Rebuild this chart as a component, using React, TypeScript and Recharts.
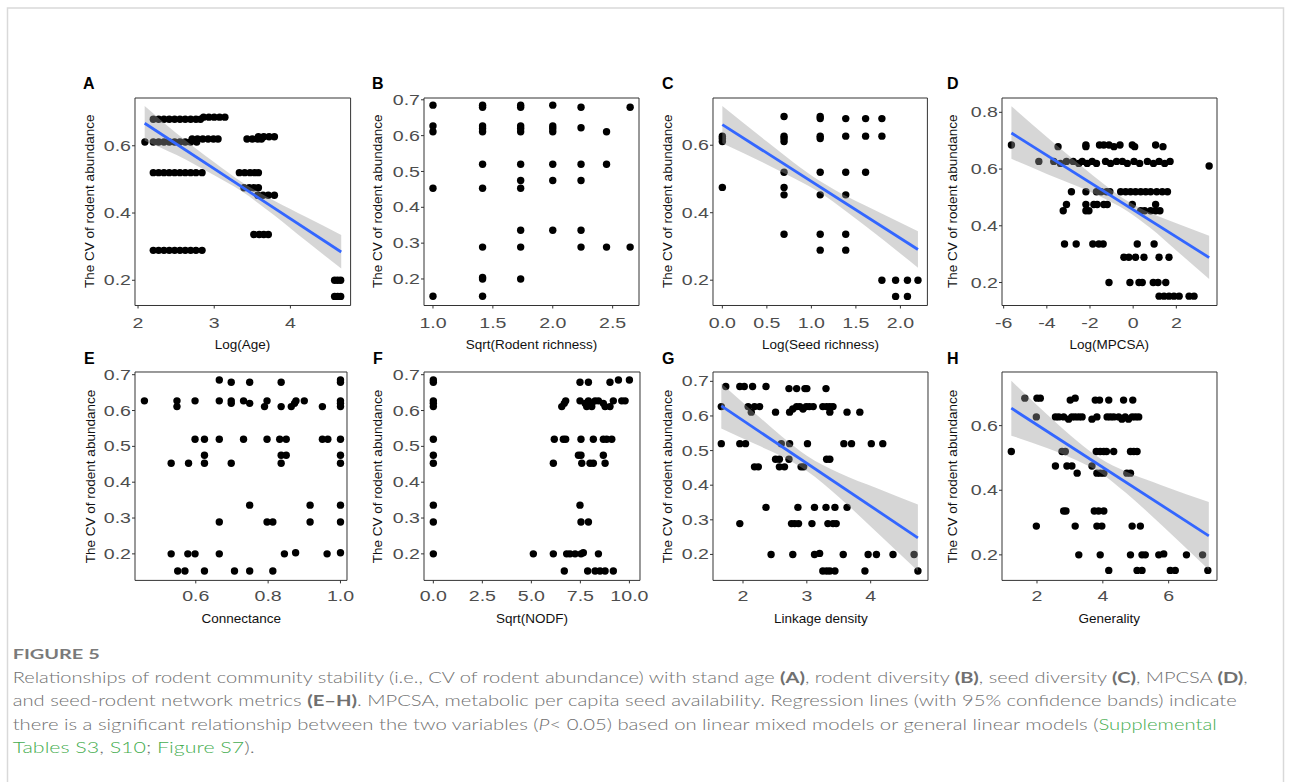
import React from 'react';
import { ComposedChart, Scatter, Area, Line, XAxis, YAxis, ReferenceArea } from 'recharts';

type Pt = [number, number];
type Band = [number, number, number];

// ---------- Panel A : Log(Age) ----------
const ptsA: Pt[] = [
  [2.20,0.679],[2.27,0.679],[2.34,0.679],[2.41,0.679],[2.48,0.679],[2.55,0.679],[2.62,0.679],[2.69,0.679],[2.76,0.679],[2.82,0.679],
  [2.86,0.685],[2.93,0.685],[3.00,0.685],[3.07,0.685],[3.14,0.685],
  [2.09,0.611],[2.20,0.611],[2.27,0.611],[2.34,0.611],[2.41,0.611],[2.48,0.611],[2.55,0.611],[2.62,0.611],[2.69,0.611],[2.77,0.611],
  [2.71,0.62],[2.78,0.62],[2.85,0.62],[2.92,0.62],[2.99,0.62],[3.05,0.62],[3.43,0.62],[3.50,0.62],[3.57,0.62],[3.62,0.62],
  [3.58,0.627],[3.65,0.627],[3.72,0.627],[3.79,0.627],
  [2.20,0.52],[2.27,0.52],[2.34,0.52],[2.41,0.52],[2.48,0.52],[2.55,0.52],[2.62,0.52],[2.69,0.52],[2.76,0.52],[2.84,0.52],
  [3.33,0.52],[3.40,0.52],[3.47,0.52],[3.53,0.52],[3.58,0.52],
  [3.39,0.475],[3.46,0.475],[3.52,0.475],[3.58,0.475],
  [3.57,0.453],[3.64,0.453],[3.71,0.453],[3.79,0.453],
  [3.52,0.336],[3.59,0.336],[3.65,0.336],[3.71,0.336],
  [2.20,0.289],[2.27,0.289],[2.34,0.289],[2.41,0.289],[2.48,0.289],[2.55,0.289],[2.62,0.289],[2.69,0.289],[2.76,0.289],[2.84,0.289],
  [4.58,0.2],[4.62,0.2],[4.66,0.2],
  [4.58,0.152],[4.62,0.152],[4.66,0.152],
];
const lineA: Pt[] = [[2.087,0.667],[4.667,0.284]];
const bandA: Band[] = [[2.087,0.615,0.718],[2.5,0.573,0.638],[3.0,0.512,0.551],[3.35,0.466,0.494],[3.8,0.391,0.435],[4.2,0.318,0.389],[4.667,0.235,0.335]];
const xTicksA = [2, 3, 4];
const yTicksA = [0.2, 0.4, 0.6];

// ---------- Panel B : Sqrt(Rodent richness) ----------
const ptsB: Pt[] = [
  [1.0,0.685],[1.0,0.627],[1.0,0.611],[1.0,0.453],[1.0,0.152],
  [1.414,0.685],[1.414,0.679],[1.414,0.627],[1.414,0.62],[1.414,0.611],[1.414,0.52],[1.414,0.453],[1.414,0.289],[1.414,0.204],[1.414,0.2],[1.414,0.152],
  [1.732,0.685],[1.732,0.679],[1.732,0.627],[1.732,0.62],[1.732,0.611],[1.732,0.52],[1.732,0.475],[1.732,0.453],[1.732,0.336],[1.732,0.289],[1.732,0.2],
  [2.0,0.685],[2.0,0.627],[2.0,0.62],[2.0,0.611],[2.0,0.52],[2.0,0.475],[2.0,0.336],
  [2.236,0.679],[2.236,0.622],[2.236,0.52],[2.236,0.475],[2.236,0.336],[2.236,0.289],
  [2.449,0.611],[2.449,0.52],[2.449,0.289],
  [2.646,0.679],[2.646,0.289],
];
const xTicksB = [1.0, 1.5, 2.0, 2.5];
const yTicksB = [0.2, 0.3, 0.4, 0.5, 0.6, 0.7];

// ---------- Panel C : Log(Seed richness) ----------
const ptsC: Pt[] = [
  [0,0.627],[0,0.62],[0,0.611],[0,0.475],
  [0.693,0.685],[0.693,0.627],[0.693,0.62],[0.693,0.611],[0.693,0.52],[0.693,0.475],[0.693,0.453],[0.693,0.336],
  [1.099,0.685],[1.099,0.679],[1.099,0.627],[1.099,0.62],[1.099,0.52],[1.099,0.453],[1.099,0.336],[1.099,0.289],
  [1.386,0.679],[1.386,0.627],[1.386,0.52],[1.386,0.453],[1.386,0.336],[1.386,0.289],
  [1.609,0.679],[1.609,0.627],[1.609,0.52],
  [1.792,0.679],[1.792,0.627],[1.792,0.2],
  [1.946,0.2],[1.946,0.152],
  [2.079,0.2],[2.079,0.152],
  [2.197,0.2],
];
const lineC: Pt[] = [[0,0.661],[2.197,0.291]];
const bandC: Band[] = [[0,0.606,0.716],[0.5,0.543,0.611],[0.8,0.503,0.549],[1.1,0.459,0.493],[1.4,0.402,0.448],[1.6,0.362,0.422],[2.197,0.237,0.345]];
const xTicksC = [0.0, 0.5, 1.0, 1.5, 2.0];
const yTicksC = [0.2, 0.4, 0.6];

// ---------- Panel D : Log(MPCSA) ----------
const ptsD: Pt[] = [
  [-5.64,0.685],[-4.37,0.627],[-3.48,0.679],
  [-3.68,0.627],[-3.37,0.62],[-3.09,0.627],[-2.78,0.627],[-2.52,0.62],
  [-2.86,0.52],[-3.09,0.475],[-3.24,0.453],[-3.18,0.336],[-2.64,0.336],
  [-2.19,0.685],[-2.19,0.679],[-2.36,0.627],[-2.13,0.62],[-1.90,0.627],[-1.70,0.62],
  [-2.19,0.52],[-2.19,0.475],[-2.19,0.453],[-2.05,0.453],[-1.82,0.475],[-1.67,0.475],
  [-1.87,0.336],[-1.59,0.336],[-1.39,0.336],
  [-1.56,0.685],[-1.36,0.685],[-1.12,0.685],[-0.89,0.679],[-0.61,0.685],
  [-1.28,0.627],[-1.05,0.62],[-0.77,0.627],
  [-1.70,0.52],[-1.48,0.52],[-1.23,0.52],[-1.08,0.52],
  [-1.36,0.475],[-1.20,0.475],[-1.12,0.2],
  [-0.04,0.685],[0.07,0.679],
  [-0.50,0.627],[-0.27,0.62],[0.04,0.627],[0.30,0.62],
  [-0.58,0.52],[-0.35,0.52],[-0.12,0.52],[0.11,0.52],[0.35,0.52],
  [-0.04,0.475],[0.35,0.453],[0.53,0.453],[0.19,0.336],
  [-0.43,0.289],[-0.20,0.289],[0.11,0.289],[0.50,0.289],
  [-0.15,0.2],[0.27,0.2],[0.42,0.2],
  [0.66,0.627],[0.94,0.62],[1.20,0.627],[1.46,0.62],[1.71,0.627],
  [0.58,0.52],[0.81,0.52],[1.09,0.52],[1.35,0.52],[1.59,0.52],
  [0.81,0.453],[1.04,0.453],[1.24,0.453],[1.04,0.475],
  [1.04,0.685],[1.38,0.679],[0.97,0.336],[1.20,0.289],[1.66,0.289],
  [0.93,0.2],[1.15,0.2],[1.51,0.2],
  [1.20,0.152],[1.43,0.152],[1.66,0.152],[1.89,0.152],[2.13,0.152],[2.59,0.152],[2.82,0.152],
  [3.52,0.611],
];
const lineD: Pt[] = [[-5.64,0.727],[3.52,0.288]];
const bandD: Band[] = [[-5.64,0.636,0.821],[-4,0.583,0.713],[-2.5,0.537,0.617],[-1.2,0.491,0.538],[-0.3,0.453,0.489],[0.8,0.392,0.445],[2.0,0.313,0.409],[3.52,0.212,0.365]];
const xTicksD = [-6, -4, -2, 0, 2];
const yTicksD = [0.2, 0.4, 0.6, 0.8];

// ---------- Panel E : Connectance ----------
const ptsE: Pt[] = [
  [0.458,0.627],[0.548,0.627],[0.548,0.611],[0.598,0.627],[0.598,0.52],[0.624,0.52],[0.624,0.475],[0.624,0.453],
  [0.532,0.453],[0.58,0.453],[0.665,0.685],[0.665,0.627],[0.665,0.52],[0.665,0.289],[0.665,0.2],
  [0.698,0.679],[0.698,0.627],[0.698,0.62],[0.698,0.453],[0.732,0.52],[0.732,0.627],[0.749,0.62],[0.749,0.679],[0.749,0.336],
  [0.707,0.152],[0.749,0.152],[0.813,0.152],[0.797,0.627],[0.79,0.611],[0.797,0.52],[0.797,0.289],[0.813,0.289],
  [0.532,0.2],[0.578,0.2],[0.598,0.2],[0.55,0.152],[0.57,0.152],[0.624,0.152],
  [0.836,0.679],[0.836,0.611],[0.832,0.52],[0.85,0.52],[0.836,0.475],[0.85,0.475],[0.836,0.453],[0.845,0.2],[0.876,0.203],
  [0.864,0.611],[0.873,0.62],[0.877,0.627],[0.9,0.627],[0.916,0.336],[0.916,0.289],[0.95,0.611],[0.95,0.52],[0.965,0.52],[0.963,0.2],
  [1,0.685],[1,0.679],[1,0.627],[1,0.62],[1,0.611],[1,0.52],[1,0.475],[1,0.453],[1,0.336],[1,0.289],[1,0.203],
];
const xTicksE = [0.6, 0.8, 1.0];
const yTicksE = [0.2, 0.3, 0.4, 0.5, 0.6, 0.7];

// ---------- Panel F : Sqrt(NODF) ----------
const ptsF: Pt[] = [
  [0,0.685],[0,0.679],[0,0.627],[0,0.62],[0,0.611],[0,0.52],[0,0.475],[0,0.453],[0,0.336],[0,0.289],[0,0.2],
  [5.10,0.2],[6.12,0.2],[6.12,0.453],[6.17,0.52],
  [6.55,0.611],[6.68,0.62],[6.75,0.627],[6.63,0.52],[6.75,0.52],[6.68,0.152],
  [6.80,0.2],[6.97,0.2],[7.23,0.2],[7.53,0.2],[7.65,0.203],
  [7.48,0.679],[7.91,0.679],
  [7.48,0.627],[7.74,0.62],[7.91,0.627],[8.08,0.62],[8.25,0.627],[8.42,0.627],[7.82,0.611],[8.08,0.611],
  [7.53,0.52],[8.16,0.52],
  [7.40,0.475],[7.53,0.475],[7.57,0.453],[7.99,0.453],[8.16,0.453],
  [7.48,0.336],[7.53,0.289],[7.91,0.289],
  [7.87,0.152],[8.25,0.152],[8.50,0.152],[8.76,0.152],[9.18,0.152],
  [8.42,0.2],
  [8.67,0.62],[8.76,0.611],[9.01,0.611],
  [8.67,0.52],[8.84,0.52],[9.10,0.52],
  [8.67,0.475],[8.76,0.453],
  [9.01,0.679],[9.44,0.685],[10.0,0.685],
  [9.18,0.627],[9.61,0.627],[9.78,0.627],
];
const xTicksF = [0.0, 2.5, 5.0, 7.5, 10.0];
const yTicksF = [0.2, 0.3, 0.4, 0.5, 0.6, 0.7];

// ---------- Panel G : Linkage density ----------
const ptsG: Pt[] = [
  [1.66,0.52],[1.66,0.627],[1.73,0.685],
  [1.95,0.685],[2.02,0.685],[2.15,0.685],[2.36,0.685],
  [1.95,0.52],[2.04,0.52],[1.95,0.289],
  [2.08,0.627],[2.13,0.611],[2.18,0.627],[2.26,0.627],
  [2.18,0.453],[2.24,0.453],[2.36,0.336],[2.44,0.2],[2.51,0.611],
  [2.51,0.475],[2.57,0.475],[2.60,0.52],[2.57,0.453],[2.65,0.453],
  [2.72,0.475],[2.73,0.52],[2.72,0.679],[2.84,0.679],
  [2.73,0.611],[2.78,0.62],[2.84,0.627],
  [2.76,0.289],[2.81,0.289],[2.87,0.289],[2.86,0.336],[2.78,0.2],
  [2.89,0.627],[2.94,0.62],[2.99,0.627],[3.04,0.627],[3.10,0.627],
  [2.97,0.679],[3.00,0.679],[2.91,0.453],[2.95,0.453],[3.01,0.52],
  [3.08,0.289],[3.12,0.336],[3.12,0.2],[3.20,0.203],
  [3.30,0.679],[3.25,0.627],[3.31,0.627],[3.36,0.627],[3.41,0.627],[3.36,0.611],
  [3.31,0.475],[3.36,0.475],[3.30,0.336],[3.44,0.336],
  [3.33,0.289],[3.41,0.289],[3.46,0.289],
  [3.25,0.152],[3.31,0.152],[3.36,0.152],[3.44,0.152],
  [3.57,0.2],[3.58,0.52],[3.70,0.52],[3.63,0.611],[3.83,0.611],[3.63,0.336],
  [3.91,0.152],[3.96,0.2],[4.09,0.2],[4.01,0.52],[4.19,0.52],[4.35,0.2],[4.68,0.2],[4.74,0.152],
];
const lineG: Pt[] = [[1.66,0.629],[4.74,0.248]];
const bandG: Band[] = [[1.66,0.564,0.694],[2.2,0.518,0.606],[2.6,0.484,0.542],[3.0,0.441,0.485],[3.5,0.366,0.436],[4.1,0.263,0.391],[4.74,0.152,0.344]];
const xTicksG = [2, 3, 4];
const yTicksG = [0.2, 0.3, 0.4, 0.5, 0.6, 0.7];

// ---------- Panel H : Generality ----------
const ptsH: Pt[] = [
  [1.22,0.52],[1.63,0.685],[2.0,0.685],[2.1,0.685],[1.98,0.627],[1.98,0.289],
  [2.56,0.627],[2.66,0.627],[2.81,0.627],[2.96,0.62],[3.06,0.627],
  [2.56,0.475],[2.76,0.52],[2.86,0.52],[2.91,0.475],[3.06,0.475],
  [2.81,0.336],[2.88,0.336],[3.01,0.679],[3.16,0.685],
  [3.16,0.627],[3.27,0.627],[3.37,0.627],[3.16,0.289],[3.22,0.453],[3.27,0.2],
  [3.67,0.475],[3.67,0.62],[3.77,0.679],[3.90,0.679],[3.82,0.627],
  [3.80,0.52],[3.92,0.52],[4.03,0.52],[4.11,0.52],
  [3.82,0.453],[3.92,0.453],[4.03,0.453],
  [3.74,0.336],[3.87,0.336],[4.03,0.336],
  [3.82,0.289],[3.97,0.289],[3.92,0.2],
  [4.18,0.679],[4.13,0.627],[4.23,0.627],[4.33,0.627],[4.18,0.152],[4.33,0.52],
  [4.48,0.627],[4.58,0.62],[4.68,0.627],[4.78,0.62],[4.89,0.627],[4.99,0.627],[5.09,0.627],
  [4.63,0.679],[4.91,0.679],[4.73,0.453],[4.84,0.453],
  [4.84,0.52],[4.94,0.52],[5.04,0.52],
  [4.89,0.289],[4.84,0.2],[5.04,0.152],[5.19,0.152],[5.14,0.289],
  [5.19,0.2],[5.29,0.2],[5.70,0.2],[5.85,0.203],
  [6.05,0.152],[6.20,0.152],[6.54,0.2],[7.03,0.2],[7.19,0.152],
];
const lineH: Pt[] = [[1.22,0.654],[7.22,0.259]];
const bandH: Band[] = [[1.22,0.569,0.739],[2.3,0.531,0.635],[3.2,0.493,0.554],[3.9,0.456,0.5],[4.7,0.392,0.458],[5.8,0.291,0.415],[7.22,0.154,0.364]];
const xTicksH = [2, 4, 6];
const yTicksH = [0.2, 0.4, 0.6];

const FONT = "'Liberation Sans', Arial, Helvetica, sans-serif";
const CAP_FONT = "Lato, 'Open Sans', 'Noto Sans', sans-serif";
const ML = 45;
const MT = 14;
const MR = 24;

interface PanelCfg {
  id: string;
  left: number; top: number; w: number; h: number;
  xDomain: [number, number]; yDomain: [number, number];
  xTicks: number[]; yTicks: number[]; xDec: number; yDec: number;
  pts: Pt[]; line?: Pt[]; band?: Band[];
  xTitle: string; letterX: number; yTitleX: number; xTickOff: number;
}

const ROW1_TOP = 97.5, ROW1_H = 207.5, ROW2_TOP = 372.3, ROW2_H = 208.4;

const panels: PanelCfg[] = [
  { id: 'A', left: 134.7, top: ROW1_TOP, w: 215.6, h: ROW1_H, xDomain: [1.96, 4.79], yDomain: [0.125, 0.742], xTicks: xTicksA, yTicks: yTicksA, xDec: 0, yDec: 1, pts: ptsA, line: lineA, band: bandA, xTitle: 'Log(Age)', letterX: 83, yTitleX: 89, xTickOff: 17.5 },
  { id: 'B', left: 424, top: ROW1_TOP, w: 215, h: ROW1_H, xDomain: [0.925, 2.72], yDomain: [0.126, 0.705], xTicks: xTicksB, yTicks: yTicksB, xDec: 1, yDec: 1, pts: ptsB, xTitle: 'Sqrt(Rodent richness)', letterX: 372, yTitleX: 377.5, xTickOff: 17.5 },
  { id: 'C', left: 713.3, top: ROW1_TOP, w: 214.4, h: ROW1_H, xDomain: [-0.105, 2.303], yDomain: [0.125, 0.74], xTicks: xTicksC, yTicks: yTicksC, xDec: 1, yDec: 1, pts: ptsC, line: lineC, band: bandC, xTitle: 'Log(Seed richness)', letterX: 662, yTitleX: 667, xTickOff: 17.5 },
  { id: 'D', left: 1001.7, top: ROW1_TOP, w: 215, h: ROW1_H, xDomain: [-6.077, 3.884], yDomain: [0.119, 0.8505], xTicks: xTicksD, yTicks: yTicksD, xDec: 0, yDec: 1, pts: ptsD, line: lineD, band: bandD, xTitle: 'Log(MPCSA)', letterX: 947, yTitleX: 952, xTickOff: 17.5 },
  { id: 'E', left: 135.3, top: ROW2_TOP, w: 212, h: ROW2_H, xDomain: [0.432, 1.018], yDomain: [0.126, 0.7075], xTicks: xTicksE, yTicks: yTicksE, xDec: 1, yDec: 1, pts: ptsE, xTitle: 'Connectance', letterX: 84, yTitleX: 90, xTickOff: 16 },
  { id: 'F', left: 424, top: ROW2_TOP, w: 216, h: ROW2_H, xDomain: [-0.476, 10.54], yDomain: [0.126, 0.7075], xTicks: xTicksF, yTicks: yTicksF, xDec: 1, yDec: 1, pts: ptsF, xTitle: 'Sqrt(NODF)', letterX: 373, yTitleX: 377.3, xTickOff: 16 },
  { id: 'G', left: 713.3, top: ROW2_TOP, w: 215, h: ROW2_H, xDomain: [1.53, 4.898], yDomain: [0.125, 0.727], xTicks: xTicksG, yTicks: yTicksG, xDec: 0, yDec: 1, pts: ptsG, line: lineG, band: bandG, xTitle: 'Linkage density', letterX: 662, yTitleX: 667.3, xTickOff: 16 },
  { id: 'H', left: 1001.7, top: ROW2_TOP, w: 215, h: ROW2_H, xDomain: [0.937, 7.468], yDomain: [0.121, 0.766], xTicks: xTicksH, yTicks: yTicksH, xDec: 0, yDec: 1, pts: ptsH, line: lineH, band: bandH, xTitle: 'Generality', letterX: 947, yTitleX: 952.3, xTickOff: 16 },
];

const TICK_FS = 14.5;
const TICK_SX = 1.35;

const Dot = (p: any) => <circle cx={p.cx} cy={p.cy} r={3.7} fill="#000" />;

function Panel({ c }: { c: PanelCfg }) {
  const W = c.w + ML + MR;
  const H = c.h + MT + 35;
  const pts = c.pts.map(([x, y]) => ({ x, y }));
  const band = c.band ? c.band.map(([x, lo, hi]) => ({ x, band: [lo, hi] })) : null;
  const line = c.line ? c.line.map(([x, y]) => ({ x, y })) : null;
  const xTick = (p: any) => (
    <g transform={`translate(${p.x},${MT + c.h + c.xTickOff})`}>
      <text transform={`scale(${TICK_SX},1)`} textAnchor="middle" dominantBaseline="central" fontSize={TICK_FS} fontFamily={FONT} fill="#4d4d4d">
        {Number(p.payload.value).toFixed(c.xDec)}
      </text>
    </g>
  );
  const yTick = (p: any) => (
    <g transform={`translate(${ML - 4},${p.y})`}>
      <text transform={`scale(${TICK_SX},1)`} textAnchor="end" dominantBaseline="central" fontSize={TICK_FS} fontFamily={FONT} fill="#4d4d4d">
        {Number(p.payload.value).toFixed(c.yDec)}
      </text>
    </g>
  );
  return (
    <div style={{ position: 'absolute', left: c.left - ML, top: c.top - MT, width: W, height: H }}>
      <ComposedChart width={W} height={H} margin={{ top: MT, right: MR, bottom: 5, left: 5 }}>
        <XAxis type="number" dataKey="x" domain={c.xDomain} allowDataOverflow ticks={c.xTicks} interval={0}
          tick={xTick} tickSize={3} tickLine={{ stroke: '#333', strokeWidth: 1 }} axisLine={false} height={30} />
        <YAxis type="number" dataKey="y" domain={c.yDomain} allowDataOverflow ticks={c.yTicks} interval={0}
          tick={yTick} tickSize={3} tickLine={{ stroke: '#333', strokeWidth: 1 }} axisLine={false} width={40} />
        <Scatter data={pts} shape={Dot} isAnimationActive={false} zIndex={50} />
        {band && (
          <Area data={band} dataKey="band" type="monotone" stroke="none" fill="#999999" fillOpacity={0.4}
            isAnimationActive={false} dot={false} activeDot={false} zIndex={100} />
        )}
        {line && (
          <Line data={line} dataKey="y" type="linear" stroke="#3366FF" strokeWidth={2.8} dot={false}
            activeDot={false} isAnimationActive={false} zIndex={400} />
        )}
        <ReferenceArea x1={c.xDomain[0]} x2={c.xDomain[1]} y1={c.yDomain[0]} y2={c.yDomain[1]}
          fill="none" fillOpacity={0} stroke="#333" strokeWidth={1} ifOverflow="visible" zIndex={450} />
      </ComposedChart>
    </div>
  );
}

const GRAY = '#707070';
const GREEN = '#45ad4f';

export default function App() {
  return (
    <div style={{ position: 'absolute', left: 0, top: 0, width: 1291, height: 782, background: '#fff', overflow: 'hidden' }}>
      <svg width={1291} height={782} style={{ position: 'absolute', left: 0, top: 0 }}>
        <rect x={7.5} y={8} width={1276} height={820} fill="none" stroke="#d9d9d9" strokeWidth={1.5} />
        {panels.map((c) => {
          const cy = c.top + c.h / 2;
          const row2 = c.top > 300;
          return (
            <g key={c.id}>
              <text x={c.letterX} y={row2 ? 364 : 89} fontSize={16} fontWeight={700} fontFamily={FONT} fill="#000">{c.id}</text>
              <text transform={`translate(${c.yTitleX},${cy}) rotate(-90)`} textAnchor="middle" dominantBaseline="central"
                fontSize={13.5} fontFamily={FONT} fill="#111">The CV of rodent abundance</text>
              <text x={c.left + c.w / 2} y={row2 ? 618 : 344} textAnchor="middle" dominantBaseline="central"
                fontSize={13.5} fontFamily={FONT} fill="#111">{c.xTitle}</text>
            </g>
          );
        })}
        <text x={12.7} y={659.3} fontSize={13.5} fontWeight={700} fontFamily={CAP_FONT} fill="#7a7a7a" textLength={87} lengthAdjust="spacingAndGlyphs">FIGURE 5</text>
        <text x={12.7} y={683} fontSize={16} fontWeight={300} fontFamily={CAP_FONT} fill={GRAY} textLength={1235} lengthAdjust="spacingAndGlyphs">
          Relationships of rodent community stability (i.e., CV of rodent abundance) with stand age <tspan fontWeight={700}>(A)</tspan>, rodent diversity <tspan fontWeight={700}>(B)</tspan>, seed diversity <tspan fontWeight={700}>(C)</tspan>, MPCSA <tspan fontWeight={700}>(D)</tspan>,
        </text>
        <text x={12.7} y={706.3} fontSize={16} fontWeight={300} fontFamily={CAP_FONT} fill={GRAY} textLength={1224} lengthAdjust="spacingAndGlyphs">
          and seed-rodent network metrics <tspan fontWeight={700}>(E–H)</tspan>. MPCSA, metabolic per capita seed availability. Regression lines (with 95% confidence bands) indicate
        </text>
        <text x={12.7} y={729.6} fontSize={16} fontWeight={300} fontFamily={CAP_FONT} fill={GRAY} textLength={1204} lengthAdjust="spacingAndGlyphs">
          there is a significant relationship between the two variables (<tspan fontStyle="italic">P</tspan>&lt; 0.05) based on linear mixed models or general linear models (<tspan fill={GREEN}>Supplemental</tspan>
        </text>
        <text x={12.7} y={752.9} fontSize={16} fontWeight={300} fontFamily={CAP_FONT} fill={GRAY} textLength={242} lengthAdjust="spacingAndGlyphs">
          <tspan fill={GREEN}>Tables S3</tspan>, <tspan fill={GREEN}>S10</tspan>; <tspan fill={GREEN}>Figure S7</tspan>).
        </text>
      </svg>
      {panels.map((c) => <Panel key={c.id} c={c} />)}
    </div>
  );
}
